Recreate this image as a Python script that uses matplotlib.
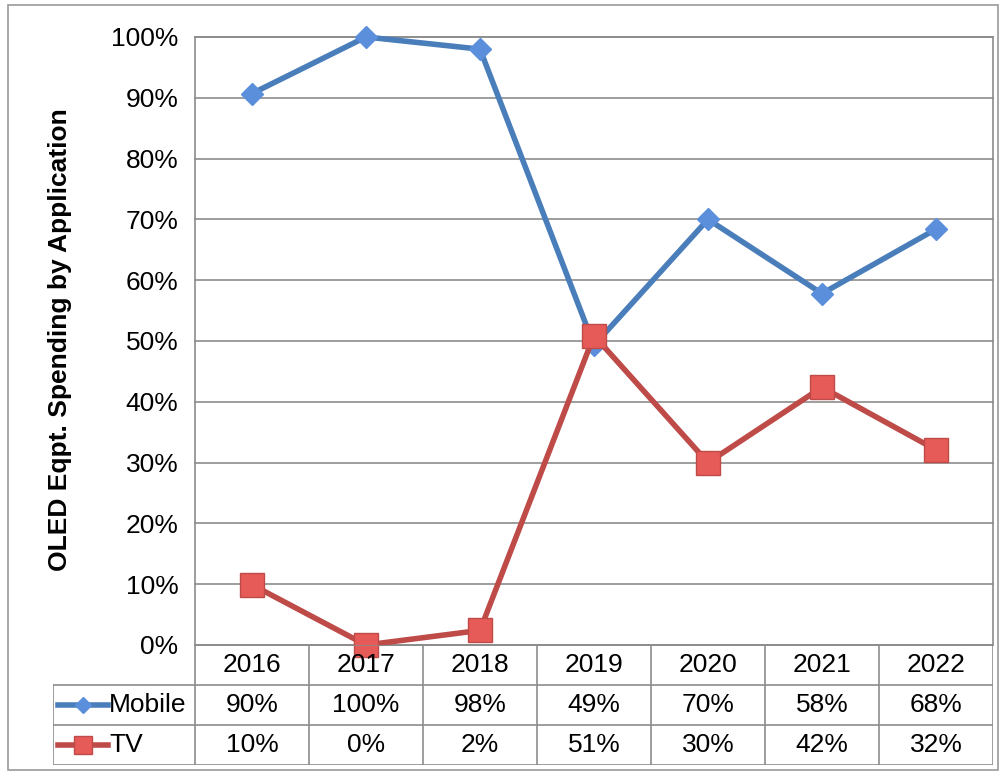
import numpy as np
import matplotlib.pyplot as plt
from matplotlib.lines import Line2D
from matplotlib.patches import Rectangle

plt.rcParams['font.family'] = ['Liberation Sans', 'DejaVu Sans']

years = ['2016', '2017', '2018', '2019', '2020', '2021', '2022']
mobile = [90.7, 100.0, 98.0, 49.3, 70.0, 57.8, 68.4]
tv = [9.9, 0.0, 2.4, 50.9, 30.0, 42.4, 32.1]
mobile_lbl = ['90%', '100%', '98%', '49%', '70%', '58%', '68%']
tv_lbl = ['10%', '0%', '2%', '51%', '30%', '42%', '32%']
y_ticks = list(range(0, 101, 10))

W, H = 1006, 776
c_mob_line = '#4a7ebb'
c_mob_mark = '#5b8fdc'
c_tv_line = '#be4b48'
c_tv_mark = '#e65a57'
c_grid = '#8c8c8c'
fs = 19

fig = plt.figure(figsize=(W / 100, H / 100), dpi=100)


def fx(px):
    return px / W


def fy(py):
    return 1 - py / H


# outer frame
fig.patches.append(Rectangle((fx(8), fy(770)), fx(990), 765 / H,
                             transform=fig.transFigure, fill=False,
                             edgecolor='#9a9a9a', linewidth=1.2))

x0, x1 = 195, 993
y_top, y_bot = 37, 645
ax = fig.add_axes([fx(x0), fy(y_bot), fx(x1 - x0), (y_bot - y_top) / H])
x = np.arange(len(years))

ax.plot(x, mobile, color=c_mob_line, linewidth=4, marker='D', markersize=11,
        markerfacecolor=c_mob_mark, markeredgecolor=c_mob_mark, zorder=3,
        solid_joinstyle='round')
ax.plot(x, tv, color=c_tv_line, linewidth=4, marker='s', markersize=17,
        markerfacecolor=c_tv_mark, markeredgecolor=c_tv_line, markeredgewidth=1,
        zorder=4)

ax.set_xlim(-0.5, len(years) - 0.5)
ax.set_ylim(0, 100)
ax.set_yticks(y_ticks)
ax.set_yticklabels([f'{t}%' for t in y_ticks], fontsize=fs)
ax.set_xticks([])
ax.tick_params(axis='y', length=0, pad=12)
for t in y_ticks:
    ax.axhline(t, color=c_grid, linewidth=1.2, zorder=1)
for s in ax.spines.values():
    s.set_color(c_grid)
    s.set_linewidth(1.2)
for ln in ax.lines:
    ln.set_clip_on(False)

fig.text(fx(60), fy(340), 'OLED Eqpt. Spending by Application', rotation=90,
         ha='center', va='center', fontsize=19, fontweight='bold')

# data table
t_left = 53
t_bot = 765
step = (x1 - x0) / len(years)
axt = fig.add_axes([fx(t_left), fy(t_bot), fx(x1 - t_left), (t_bot - y_bot) / H])
axt.set_xlim(-0.5 - (x0 - t_left) / step, len(years) - 0.5)
axt.set_ylim(3, 0)
axt.axis('off')
lw = 1.2
leg_x = -0.5 - (x0 - t_left) / step
axt.plot([-0.5, len(years) - 0.5], [0, 0], color=c_grid, lw=lw)
for yy in (1, 2, 3):
    axt.plot([leg_x, len(years) - 0.5], [yy, yy], color=c_grid, lw=lw)
for i in range(len(years) + 1):
    axt.plot([i - 0.5, i - 0.5], [0, 3], color=c_grid, lw=lw)
axt.plot([leg_x, leg_x], [1, 3], color=c_grid, lw=lw)

for i, yr in enumerate(years):
    axt.text(i, 0.5, yr, ha='center', va='center', fontsize=fs)
    axt.text(i, 1.5, mobile_lbl[i], ha='center', va='center', fontsize=fs)
    axt.text(i, 2.5, tv_lbl[i], ha='center', va='center', fontsize=fs)

seg = [leg_x + 5 / step, leg_x + 55 / step]
mid = (seg[0] + seg[1]) / 2
axt.add_line(Line2D(seg, [1.5, 1.5], color=c_mob_line, lw=4))
axt.plot([mid], [1.5], marker='D', markersize=8, color=c_mob_mark)
axt.add_line(Line2D(seg, [2.5, 2.5], color=c_tv_line, lw=4))
axt.plot([mid], [2.5], marker='s', markersize=13, markerfacecolor=c_tv_mark,
         markeredgecolor=c_tv_line)
axt.text(seg[1] + 1 / step, 1.5, 'Mobile', ha='left', va='center', fontsize=fs)
axt.text(seg[1] + 1 / step, 2.5, 'TV', ha='left', va='center', fontsize=fs)

fig.savefig('out.png', dpi=100)
